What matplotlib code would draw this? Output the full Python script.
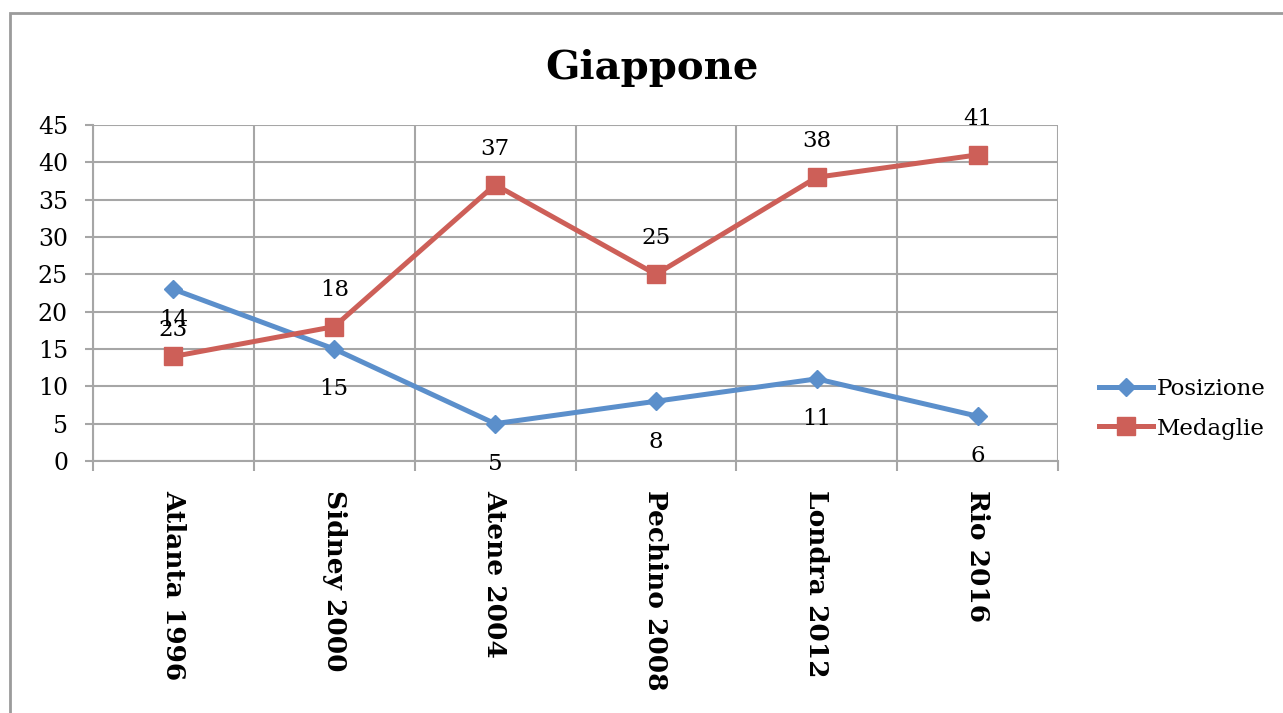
import matplotlib
matplotlib.use('Agg')
import matplotlib.pyplot as plt
import matplotlib.patches as patches

games = ['Atlanta 1996', 'Sidney 2000', 'Atene 2004', 'Pechino 2008', 'Londra 2012', 'Rio 2016']
posizione = [23, 15, 5, 8, 11, 6]
medaglie = [14, 18, 37, 25, 38, 41]

blue = '#5B8FCB'
red = '#CD5F58'
grid_gray = '#A6A6A6'

plt.rcParams['font.family'] = ['DejaVu Serif']

fig = plt.figure(figsize=(12.83, 7.13), dpi=100)
ax = fig.add_axes([93 / 1283, 1 - 461 / 713, (1058 - 93) / 1283, (461 - 125) / 713])

# outer chart frame (cut off on the right and bottom)
fig.patches.append(patches.Rectangle((10 / 1283, -0.1), 1.2, 1.1 - 13 / 713,
                                     transform=fig.transFigure, fill=False,
                                     edgecolor='#9B9B9B', linewidth=2))

x = list(range(len(games)))
ax.plot(x, posizione, color=blue, linewidth=3.6, marker='D', markersize=9.5,
        label='Posizione', zorder=3)
ax.plot(x, medaglie, color=red, linewidth=3.6, marker='s', markersize=13.5,
        label='Medaglie', zorder=3)

for i, v in enumerate(posizione):
    ax.annotate(str(v), (i, v), xytext=(0, -29), textcoords='offset points',
                ha='center', va='center', fontsize=16.5, annotation_clip=False)
for i, v in enumerate(medaglie):
    ax.annotate(str(v), (i, v), xytext=(0, 26), textcoords='offset points',
                ha='center', va='center', fontsize=16.5, annotation_clip=False)

ax.set_xlim(-0.5, 5.5)
ax.set_ylim(0, 45)
ax.set_yticks(range(0, 46, 5))
ax.set_xticks(x)
ax.set_xticklabels(games, rotation=-90, fontsize=19, fontweight='bold', va='top')
ax.set_xticks([i - 0.5 for i in range(len(games) + 1)], minor=True)
ax.tick_params(axis='x', which='major', length=0, pad=21)
ax.tick_params(axis='x', which='minor', length=7, width=1.5, color=grid_gray)
ax.tick_params(axis='y', length=6, width=1.5, color=grid_gray, labelsize=17, pad=12)

ax.grid(True, axis='y', color=grid_gray, linewidth=1.5)
ax.grid(True, axis='x', which='minor', color=grid_gray, linewidth=1.5)
ax.set_axisbelow(True)
for side in ['top', 'right']:
    ax.spines[side].set_visible(False)
for side in ['left', 'bottom']:
    ax.spines[side].set_color(grid_gray)
    ax.spines[side].set_linewidth(1.5)

fig.text(652 / 1283, 1 - 68 / 713, 'Giappone', ha='center', va='center',
         fontsize=29, fontweight='bold')

ax.legend(loc='center left', bbox_to_anchor=(1.043, 0.155), frameon=False,
          fontsize=16.5, handlelength=2.35, labelspacing=0.75, handletextpad=0.15,
          borderaxespad=0, borderpad=0)

fig.savefig('out.png', dpi=100)
